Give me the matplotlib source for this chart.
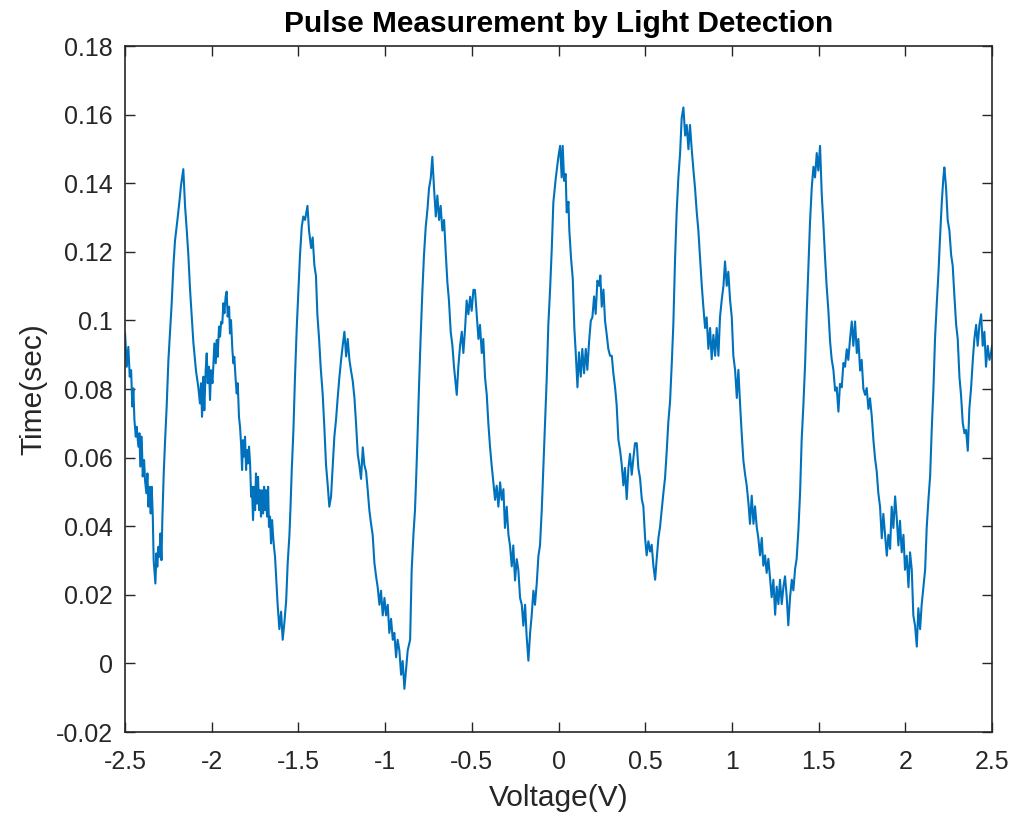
import matplotlib
matplotlib.use("Agg")
import matplotlib.pyplot as plt
import numpy as np

plt.rcParams['font.family'] = ['Liberation Sans', 'DejaVu Sans']

# (voltage, time) pairs, segment by segment
seg1 = [(-2.500,0.0962),(-2.490,0.0865),(-2.481,0.0923),(-2.473,0.0836),(-2.465,0.0855),(-2.458,0.0749),
        (-2.452,0.0802),(-2.446,0.0710),(-2.438,0.0661),(-2.433,0.0690),(-2.423,0.0632),(-2.417,0.0671),
        (-2.412,0.0574),(-2.404,0.0661),(-2.398,0.0545),(-2.390,0.0593),(-2.385,0.0535),(-2.377,0.0496),
        (-2.371,0.0554),(-2.365,0.0457),(-2.358,0.0515),(-2.352,0.0437),(-2.346,0.0515),(-2.340,0.0428),
        (-2.335,0.0301),(-2.329,0.0262),(-2.325,0.0233),(-2.319,0.0321),(-2.314,0.0282),(-2.308,0.0340),
        (-2.302,0.0311),(-2.296,0.0379),(-2.290,0.0301),(-2.285,0.0418),(-2.277,0.0554),(-2.269,0.0651),
        (-2.260,0.0749),(-2.250,0.0884),(-2.241,0.0962),(-2.231,0.1050),(-2.221,0.1160),(-2.212,0.1232),
        (-2.198,0.1293),(-2.187,0.1344),(-2.177,0.1395),(-2.164,0.1441),(-2.154,0.1334),(-2.144,0.1262),
        (-2.135,0.1191),(-2.125,0.1089),(-2.116,0.1018),(-2.106,0.0936),(-2.091,0.0854),(-2.077,0.0803)]
seg1b = [(-2.068,0.0758),(-2.062,0.0817),(-2.056,0.0719),(-2.048,0.0836),(-2.043,0.0738),(-2.035,0.0855),
         (-2.029,0.0904),(-2.023,0.0817),(-2.016,0.0865),(-2.010,0.0768),(-2.004,0.0855),(-1.996,0.0817),
         (-1.991,0.0865),(-1.985,0.0933),(-1.977,0.0875),(-1.971,0.0943),(-1.966,0.0894),(-1.958,0.0982),
         (-1.952,0.0953),(-1.946,0.0996),(-1.939,0.0991),(-1.933,0.1050),(-1.927,0.1021),(-1.920,0.1069),
         (-1.914,0.1084),(-1.908,0.1011),(-1.900,0.1040),(-1.895,0.0962),(-1.889,0.1001),(-1.881,0.0914),
         (-1.875,0.0875),(-1.870,0.0894),(-1.862,0.0826),(-1.856,0.0787),(-1.850,0.0817),(-1.843,0.0719),
         (-1.837,0.0690),(-1.831,0.0642),(-1.825,0.0564),(-1.820,0.0651),(-1.814,0.0603),(-1.808,0.0661),
         (-1.802,0.0564),(-1.797,0.0622),(-1.791,0.0583),(-1.785,0.0632),(-1.779,0.0583),(-1.773,0.0486),
         (-1.768,0.0515),(-1.762,0.0418),(-1.756,0.0515),(-1.750,0.0447),(-1.745,0.0554),(-1.739,0.0466),
         (-1.733,0.0544),(-1.727,0.0447),(-1.722,0.0505),(-1.716,0.0428),(-1.710,0.0505),(-1.704,0.0437),
         (-1.698,0.0515),(-1.693,0.0447),(-1.687,0.0505),(-1.681,0.0428),(-1.675,0.0515),(-1.670,0.0398),
         (-1.664,0.0428),(-1.658,0.0350),(-1.652,0.0418),(-1.646,0.0369),(-1.641,0.0340),(-1.635,0.0311)]
seg2 = [(-1.629,0.0253),
        (-1.620,0.0171),(-1.610,0.0100),(-1.600,0.0151),(-1.591,0.0069),(-1.581,0.0120),(-1.571,0.0181),
        (-1.562,0.0293),(-1.552,0.0375),(-1.545,0.0467),(-1.539,0.0559),(-1.529,0.0681),(-1.520,0.0834),
        (-1.510,0.0977),(-1.500,0.1089),(-1.491,0.1191),(-1.481,0.1273),(-1.472,0.1303),(-1.462,0.1293),
        (-1.448,0.1334),(-1.439,0.1262),(-1.427,0.1211),(-1.418,0.1242),(-1.408,0.1160),(-1.399,0.1130),
        (-1.391,0.1018),(-1.381,0.0946),(-1.372,0.0865),(-1.360,0.0783),(-1.350,0.0681),(-1.341,0.0579),
        (-1.331,0.0518),(-1.322,0.0457),(-1.312,0.0487),(-1.302,0.0579),(-1.293,0.0661),(-1.283,0.0712),
        (-1.274,0.0773),(-1.264,0.0834),(-1.254,0.0885),(-1.245,0.0926),(-1.235,0.0967),(-1.225,0.0895),
        (-1.216,0.0946),(-1.206,0.0885),(-1.197,0.0854),(-1.187,0.0824),(-1.177,0.0773),(-1.168,0.0701),
        (-1.158,0.0610),(-1.149,0.0579),(-1.139,0.0538),(-1.129,0.0630),(-1.120,0.0579),(-1.110,0.0559),
        (-1.101,0.0508),(-1.091,0.0446),(-1.081,0.0406),(-1.072,0.0375),(-1.062,0.0293),(-1.052,0.0253),
        (-1.043,0.0222),(-1.033,0.0171),(-1.024,0.0212),(-1.014,0.0140),(-1.004,0.0191),(-0.995,0.0140),
        (-0.985,0.0171),(-0.976,0.0089),(-0.966,0.0130),(-0.956,0.0069),(-0.947,0.0089),(-0.937,0.0018),
        (-0.928,0.0069),(-0.918,0.0038),(-0.908,-0.0033),(-0.899,0.0007),(-0.889,-0.0074),(-0.879,-0.0013),
        (-0.870,0.0038)]
seg3 = [(-0.856,0.0069),(-0.847,0.0273),(-0.837,0.0375),(-0.828,0.0446),(-0.822,0.0528),(-0.814,0.0650),
        (-0.805,0.0803),(-0.795,0.0956),(-0.785,0.1089),(-0.776,0.1191),(-0.766,0.1273),(-0.756,0.1324),
        (-0.747,0.1385),(-0.737,0.1415),(-0.728,0.1477),(-0.718,0.1385),(-0.708,0.1303),(-0.699,0.1364),
        (-0.689,0.1293),(-0.680,0.1334),(-0.670,0.1262),(-0.660,0.1293),(-0.651,0.1201),(-0.641,0.1110),
        (-0.632,0.1058),(-0.622,0.0967),(-0.612,0.0926),(-0.603,0.0865),(-0.595,0.0824),(-0.587,0.0783),
        (-0.578,0.0865),(-0.568,0.0926),(-0.558,0.0967),(-0.549,0.0905),(-0.539,0.0977),(-0.530,0.1058),
        (-0.520,0.1018),(-0.510,0.1069),(-0.501,0.1028),(-0.491,0.1089),(-0.482,0.1089),(-0.472,0.1018),
        (-0.462,0.0946),(-0.453,0.0987),(-0.443,0.0905),(-0.434,0.0946),(-0.424,0.0834),(-0.414,0.0783),
        (-0.405,0.0701),(-0.395,0.0630),(-0.386,0.0579),(-0.376,0.0528),(-0.366,0.0477),(-0.357,0.0518),
        (-0.347,0.0457),(-0.337,0.0528),(-0.328,0.0477),(-0.318,0.0508),(-0.309,0.0395),(-0.299,0.0457),
        (-0.289,0.0375),(-0.280,0.0344),(-0.270,0.0283),(-0.261,0.0344),(-0.251,0.0242),(-0.241,0.0304),
        (-0.232,0.0273),(-0.222,0.0191),(-0.212,0.0171),(-0.203,0.0110),(-0.193,0.0171),(-0.184,0.0079),
        (-0.174,0.0008),(-0.164,0.0089),(-0.155,0.0140),(-0.145,0.0212),(-0.136,0.0171),(-0.126,0.0232),
        (-0.116,0.0314),(-0.107,0.0344),(-0.097,0.0446),(-0.087,0.0579),(-0.078,0.0701),(-0.068,0.0834),
        (-0.059,0.0987),(-0.049,0.1089),(-0.039,0.1211),(-0.030,0.1344),(-0.016,0.1415),(-0.001,0.1477)]
seg4 = [(0.009,0.1509),(0.018,0.1417),(0.024,0.1509),(0.032,0.1407),(0.041,0.1427),(0.047,0.1315),
        (0.057,0.1346),(0.062,0.1264),(0.072,0.1182),(0.082,0.1121),(0.091,0.0978),(0.099,0.0907),
        (0.109,0.0805),(0.118,0.0907),(0.128,0.0836),(0.137,0.0917),(0.147,0.0846),(0.157,0.0917),
        (0.166,0.0856),(0.176,0.0938),(0.186,0.0999),(0.195,0.1009),(0.205,0.1070),(0.214,0.1019),
        (0.224,0.1116),(0.234,0.1101),(0.241,0.1131),(0.249,0.1040),(0.259,0.1090),(0.268,0.0999),
        (0.278,0.0958),(0.287,0.0917),(0.297,0.0897),(0.307,0.0897),(0.316,0.0846),(0.326,0.0805),
        (0.335,0.0754),(0.345,0.0652),(0.355,0.0621),(0.364,0.0581),(0.374,0.0519),(0.383,0.0570),
        (0.393,0.0479),(0.403,0.0570),(0.412,0.0611),(0.422,0.0550),(0.432,0.0601),(0.441,0.0642),
        (0.451,0.0642),(0.460,0.0570),(0.470,0.0540),(0.480,0.0479),(0.489,0.0458),(0.499,0.0366),
        (0.508,0.0315),(0.518,0.0356),(0.528,0.0326),(0.537,0.0346),(0.547,0.0285),(0.557,0.0244),
        (0.566,0.0305),(0.576,0.0366),(0.585,0.0397),(0.595,0.0448),(0.605,0.0499),(0.614,0.0540),
        (0.624,0.0621),(0.633,0.0703),(0.643,0.0764),(0.653,0.0876),(0.662,0.0989),(0.672,0.1182),
        (0.681,0.1315),(0.691,0.1417),(0.701,0.1488),(0.710,0.1590),(0.720,0.1621),(0.730,0.1539),
        (0.739,0.1570),(0.749,0.1499),(0.758,0.1570),(0.768,0.1499),(0.778,0.1437),(0.787,0.1386),
        (0.797,0.1315),(0.806,0.1264)]
seg5 = [(0.816,0.1182),(0.826,0.1101),(0.835,0.1040),(0.845,0.0978),(0.854,0.1009),(0.864,0.0917),
        (0.874,0.0978),(0.883,0.0887),(0.893,0.0958),(0.903,0.0897),(0.912,0.0978),(0.922,0.0897),
        (0.931,0.1009),(0.941,0.1060),(0.951,0.1101),(0.960,0.1172),(0.970,0.1101),(0.979,0.1142),
        (0.989,0.1060),(0.999,0.1009),(1.008,0.0897),(1.018,0.0856),(1.028,0.0774),(1.037,0.0856),
        (1.047,0.0754),(1.056,0.0672),(1.066,0.0591),(1.076,0.0550),(1.085,0.0519),(1.095,0.0468),
        (1.104,0.0407),(1.114,0.0489),(1.124,0.0407),(1.133,0.0458),(1.143,0.0397),(1.152,0.0366),
        (1.162,0.0315),(1.172,0.0366),(1.181,0.0285),(1.191,0.0315),(1.200,0.0264),(1.210,0.0305),
        (1.220,0.0244),(1.229,0.0193),(1.239,0.0244),(1.249,0.0142),(1.258,0.0224),(1.268,0.0173),
        (1.277,0.0244),(1.287,0.0173),(1.297,0.0224),(1.306,0.0254),(1.316,0.0193),(1.325,0.0111),
        (1.335,0.0193),(1.345,0.0244),(1.354,0.0213),(1.364,0.0275),(1.373,0.0305),(1.383,0.0387),
        (1.393,0.0499),(1.402,0.0652),(1.412,0.0754),(1.422,0.0876),(1.431,0.1019),(1.441,0.1162),
        (1.450,0.1284),(1.460,0.1386),(1.470,0.1448),(1.479,0.1417),(1.489,0.1488),(1.498,0.1437),
        (1.508,0.1509),(1.518,0.1366),(1.527,0.1284),(1.537,0.1182),(1.546,0.1101),(1.556,0.1029),
        (1.566,0.0938),(1.575,0.0887),(1.585,0.0856),(1.595,0.0795),(1.604,0.0805),(1.614,0.0734),
        (1.623,0.0815),(1.633,0.0805),(1.643,0.0876)]
seg6 = [(1.652,0.0865),(1.662,0.0916),(1.671,0.0885),(1.681,0.0946),(1.691,0.0997),(1.700,0.0926),
        (1.710,0.0997),(1.720,0.0905),(1.729,0.0946),(1.739,0.0854),(1.748,0.0885),(1.758,0.0800),
        (1.768,0.0783),(1.777,0.0803),(1.787,0.0742),(1.796,0.0773),(1.806,0.0722),(1.816,0.0650),
        (1.825,0.0599),(1.835,0.0559),(1.844,0.0497),(1.854,0.0457),(1.864,0.0365),(1.873,0.0436),
        (1.883,0.0375),(1.893,0.0314),(1.902,0.0375),(1.912,0.0334),(1.921,0.0457),(1.931,0.0395),
        (1.941,0.0487),(1.950,0.0426),(1.960,0.0344),(1.969,0.0416),(1.979,0.0324),(1.989,0.0375),
        (1.998,0.0273),(2.008,0.0314),(2.018,0.0222),(2.027,0.0324),(2.037,0.0273),(2.046,0.0140),
        (2.056,0.0110),(2.066,0.0049),(2.075,0.0161),(2.085,0.0100),(2.094,0.0171),(2.104,0.0222),
        (2.114,0.0273),(2.123,0.0395),(2.133,0.0477),(2.143,0.0548),(2.152,0.0681),(2.162,0.0803),
        (2.171,0.0946),(2.181,0.1048),(2.191,0.1140),(2.200,0.1242),(2.210,0.1344),(2.219,0.1415),
        (2.225,0.1446),(2.235,0.1385),(2.244,0.1293),(2.254,0.1262),(2.264,0.1191),(2.273,0.1160),
        (2.283,0.1069),(2.293,0.0987),(2.302,0.0946),(2.312,0.0834),(2.321,0.0783),(2.331,0.0701),
        (2.341,0.0671),(2.350,0.0681),(2.360,0.0620),(2.369,0.0742),(2.379,0.0803),(2.389,0.0885),
        (2.398,0.0946),(2.408,0.0987),(2.417,0.0926),(2.427,0.0987),(2.437,0.1018),(2.446,0.0926),
        (2.456,0.0967),(2.465,0.0865),(2.475,0.0926),(2.485,0.0885),(2.494,0.0905),(2.500,0.0926)]

x_ticks = [-2.5, -2, -1.5, -1, -0.5, 0, 0.5, 1, 1.5, 2, 2.5]
x_tick_labels = ['-2.5', '-2', '-1.5', '-1', '-0.5', '0', '0.5', '1', '1.5', '2', '2.5']
y_ticks = [-0.02, 0, 0.02, 0.04, 0.06, 0.08, 0.1, 0.12, 0.14, 0.16, 0.18]
y_tick_labels = ['-0.02', '0', '0.02', '0.04', '0.06', '0.08', '0.1', '0.12', '0.14', '0.16', '0.18']

pts = seg1 + seg1b + seg2 + seg3 + seg4 + seg5 + seg6
voltage = np.array([p[0] for p in pts])
time_s = np.array([p[1] for p in pts])

fig = plt.figure(figsize=(10.15, 8.25), dpi=100)
ax = fig.add_axes([0.1232, 0.1127, 0.8542, 0.8315])
ax.plot(voltage, time_s, color='#0072BD', linewidth=1.5)

ax.set_xlim(-2.5, 2.5)
ax.set_ylim(-0.02, 0.18)
ax.set_xticks(x_ticks)
ax.set_xticklabels(x_tick_labels)
ax.set_yticks(y_ticks)
ax.set_yticklabels(y_tick_labels)

axc = '#262626'
for s in ax.spines.values():
    s.set_color(axc)
    s.set_linewidth(1.2)
ax.tick_params(direction='in', length=7.2, width=1.0, top=True, right=True,
               labelsize=18, colors=axc)
ax.tick_params(axis='x', pad=13)
ax.tick_params(axis='y', pad=9)
ax.set_xlabel('Voltage(V)', fontsize=21.5, color=axc, labelpad=7)
ax.set_ylabel('Time(sec)', fontsize=21.5, color=axc, labelpad=6)
ax.set_title('Pulse Measurement by Light Detection', fontsize=21.5, fontweight='bold',
             color='black', pad=10)

fig.savefig('out.png', dpi=100)
